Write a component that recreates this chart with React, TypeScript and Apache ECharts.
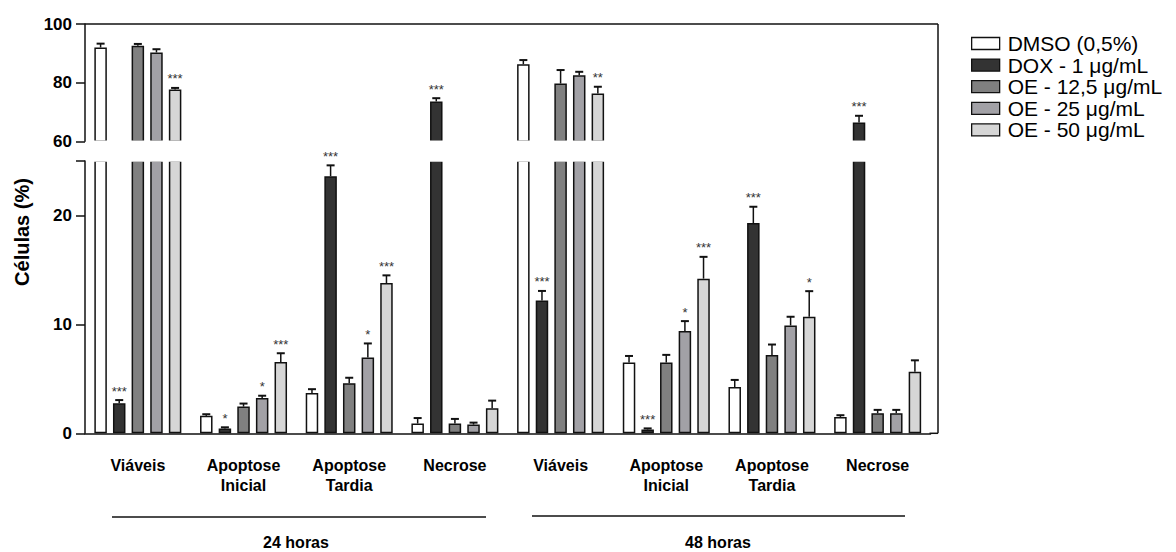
import React, { useEffect, useRef } from 'react';
import * as echarts from 'echarts';

// ---------- data ----------
const groupLabels = ['Viáveis', 'Apoptose\nInicial', 'Apoptose\nTardia', 'Necrose', 'Viáveis', 'Apoptose\nInicial', 'Apoptose\nTardia', 'Necrose'];
const timeLabels = ['24 horas', '48 horas'];
const seriesNames = ['DMSO (0,5%)', 'DOX - 1 μg/mL', 'OE - 12,5 μg/mL', 'OE - 25 μg/mL', 'OE - 50 μg/mL'];

const dmsoValues = [92.0, 1.6, 3.7, 0.9, 86.3, 6.5, 4.25, 1.5];
const dmsoErrors = [1.3, 0.15, 0.35, 0.5, 1.4, 0.6, 0.65, 0.16];
const doxValues = [2.75, 0.45, 23.6, 73.6, 12.2, 0.35, 19.3, 66.4];
const doxErrors = [0.3, 0.1, 1.0, 1.1, 0.87, 0.1, 1.5, 2.3];
const oe125Values = [92.6, 2.45, 4.6, 0.9, 79.7, 6.5, 7.2, 1.85];
const oe125Errors = [0.6, 0.28, 0.5, 0.42, 4.6, 0.7, 0.95, 0.3];
const oe25Values = [90.3, 3.25, 6.95, 0.8, 82.5, 9.4, 9.9, 1.85];
const oe25Errors = [1.1, 0.2, 1.3, 0.18, 1.2, 0.9, 0.8, 0.3];
const oe50Values = [77.7, 6.55, 13.8, 2.3, 76.3, 14.2, 10.7, 5.65];
const oe50Errors = [0.5, 0.8, 0.7, 0.7, 2.3, 2.0, 2.35, 1.05];

const dmsoSig = ['', '', '', '', '', '', '', ''];
const doxSig = ['***', '*', '***', '***', '***', '***', '***', '***'];
const oe125Sig = ['', '', '', '', '', '', '', ''];
const oe25Sig = ['', '*', '*', '', '', '*', '', ''];
const oe50Sig = ['***', '***', '***', '', '**', '***', '*', ''];

const upperMin = 60, upperMax = 100, upperInterval = 20;
const lowerMin = 0, lowerMax = 25, lowerInterval = 10;

// ---------- styles ----------
const seriesColors = ['#ffffff', '#333333', '#808080', '#a2a1a6', '#d6d6d6'];
const FONT = '"Liberation Sans", Arial, Helvetica, sans-serif';
const BAR_W = 12.5;
const BAR_GAP = 0.49;
const GRID_LEFT = 85;
const GRID_W = 845.5;
const UP_TOP = 24, UP_H = 117.3;
const LO_TOP = 161, LO_H = 272.3;
const BOX_RIGHT = 938;

const allValues = [dmsoValues, doxValues, oe125Values, oe25Values, oe50Values];
const allErrors = [dmsoErrors, doxErrors, oe125Errors, oe25Errors, oe50Errors];
const allSigs = [dmsoSig, doxSig, oe125Sig, oe25Sig, oe50Sig];
const categoryKeys = groupLabels.map((l, i) => `${i}|${l}`);

function errorData(keep: (v: number) => boolean) {
  const out: any[] = [];
  allValues.forEach((vals, s) => {
    vals.forEach((v, c) => {
      if (keep(v)) out.push([c, v, allErrors[s][c], s]);
    });
  });
  return out;
}

function renderErr(params: any, api: any) {
  const c = api.value(0);
  const v = api.value(1);
  const e = api.value(2);
  const s = api.value(3);
  const base = api.coord([c, v]);
  const top = api.coord([c, v + e]);
  const total = 5 * BAR_W + 4 * BAR_W * BAR_GAP;
  const x = base[0] - total / 2 + s * BAR_W * (1 + BAR_GAP) + BAR_W / 2;
  const children: any[] = [
    { type: 'line', shape: { x1: x, y1: base[1], x2: x, y2: top[1] }, style: { stroke: '#111', lineWidth: 1.5 } },
    { type: 'line', shape: { x1: x - 4, y1: top[1], x2: x + 4, y2: top[1] }, style: { stroke: '#111', lineWidth: 2 } },
  ];
  const sig = allSigs[s][c];
  if (sig) {
    children.push({
      type: 'text',
      x: x,
      y: top[1] - 9,
      style: { text: sig, fontSize: 13, fontFamily: FONT, fill: '#333', align: 'center', verticalAlign: 'middle' },
    });
  }
  return { type: 'group', children };
}

export default function App() {
  const ref = useRef<HTMLDivElement>(null);
  useEffect(() => {
    if (!ref.current) return;
    const chart = echarts.init(ref.current, undefined, { renderer: 'svg' });
    const barSeries: any[] = [];
    [0, 1].forEach((g) => {
      allValues.forEach((vals, s) => {
        barSeries.push({
          type: 'bar',
          name: seriesNames[s],
          xAxisIndex: g,
          yAxisIndex: g,
          data: vals,
          barWidth: BAR_W,
          barGap: `${BAR_GAP * 100}%`,
          itemStyle: { color: seriesColors[s], borderColor: '#111', borderWidth: 1.5 },
          z: 2,
        });
      });
    });
    const option: any = {
      animation: false,
      backgroundColor: '#ffffff',
      textStyle: { fontFamily: FONT },
      legend: {
        orient: 'vertical',
        left: 966,
        top: 28,
        itemWidth: 28,
        itemHeight: 12,
        itemGap: 0.6,
        icon: 'rect',
        data: seriesNames,
        itemStyle: { borderColor: '#111', borderWidth: 1.3 },
        textStyle: { fontSize: 21, fontFamily: FONT, color: '#000', lineHeight: 21, padding: [0, 0, 0, 3] },
      },
      grid: [
        { left: GRID_LEFT, top: UP_TOP, width: GRID_W, height: UP_H },
        { left: GRID_LEFT, top: LO_TOP, width: GRID_W, height: LO_H },
      ],
      xAxis: [
        { type: 'category', gridIndex: 0, data: categoryKeys, show: false },
        {
          type: 'category',
          gridIndex: 1,
          data: categoryKeys,
          axisLine: { lineStyle: { color: '#111', width: 1.5 } },
          axisTick: { alignWithLabel: true, length: 8, lineStyle: { color: '#111', width: 1.5 } },
          axisLabel: {
            interval: 0,
            margin: 22,
            fontSize: 16,
            fontWeight: 'bold',
            fontFamily: FONT,
            color: '#000',
            lineHeight: 20,
            formatter: (v: string) => v.split('|')[1],
          },
        },
      ],
      yAxis: [
        {
          type: 'value',
          gridIndex: 0,
          min: upperMin,
          max: upperMax,
          interval: upperInterval,
          splitLine: { show: false },
          axisLine: { show: true, lineStyle: { color: '#111', width: 1.5 } },
          axisTick: { show: true, length: 9, lineStyle: { color: '#111', width: 1.5 } },
          axisLabel: { margin: 13, fontSize: 17, fontWeight: 'bold', fontFamily: FONT, color: '#000' },
        },
        {
          type: 'value',
          gridIndex: 1,
          min: lowerMin,
          max: lowerMax,
          interval: lowerInterval,
          splitLine: { show: false },
          axisLine: { show: true, lineStyle: { color: '#111', width: 1.5 } },
          axisTick: { show: true, length: 9, lineStyle: { color: '#111', width: 1.5 } },
          axisLabel: {
            margin: 13,
            fontSize: 17,
            fontWeight: 'bold',
            fontFamily: FONT,
            color: '#000',
            formatter: (v: number) => (v === lowerMax ? '' : String(v)),
          },
        },
      ],
      series: [
        ...barSeries,
        {
          type: 'custom',
          xAxisIndex: 0,
          yAxisIndex: 0,
          data: errorData((v) => v >= upperMin),
          renderItem: renderErr,
          z: 10,
        },
        {
          type: 'custom',
          xAxisIndex: 1,
          yAxisIndex: 1,
          data: errorData((v) => v < lowerMax),
          renderItem: renderErr,
          z: 10,
        },
      ],
      graphic: [
        { type: 'rect', z: 3, shape: { x: GRID_LEFT + 1, y: UP_TOP + UP_H - 0.8, width: BOX_RIGHT - GRID_LEFT - 2, height: LO_TOP - UP_TOP - UP_H + 1.6 }, style: { fill: '#fff' } },
        { type: 'line', z: 6, shape: { x1: GRID_LEFT, y1: UP_TOP, x2: BOX_RIGHT, y2: UP_TOP }, style: { stroke: '#111', lineWidth: 1.5 } },
        { type: 'line', z: 6, shape: { x1: BOX_RIGHT, y1: UP_TOP, x2: BOX_RIGHT, y2: LO_TOP + LO_H }, style: { stroke: '#111', lineWidth: 1.5 } },
        { type: 'line', z: 6, shape: { x1: GRID_LEFT + GRID_W - 1, y1: LO_TOP + LO_H, x2: BOX_RIGHT, y2: LO_TOP + LO_H }, style: { stroke: '#111', lineWidth: 1.5 } },
        {
          type: 'text', z: 6, x: 22, y: 232, rotation: Math.PI / 2,
          style: { text: 'Células (%)', fontSize: 20, fontWeight: 'bold', fontFamily: FONT, fill: '#000', align: 'center', verticalAlign: 'middle' },
        },
        { type: 'line', z: 6, shape: { x1: 112, y1: 517, x2: 486, y2: 517 }, style: { stroke: '#111', lineWidth: 1.3 } },
        { type: 'line', z: 6, shape: { x1: 532, y1: 516, x2: 905, y2: 516 }, style: { stroke: '#111', lineWidth: 1.3 } },
        {
          type: 'text', z: 6, x: 296, y: 542,
          style: { text: timeLabels[0], fontSize: 16, fontWeight: 'bold', fontFamily: FONT, fill: '#000', align: 'center', verticalAlign: 'middle' },
        },
        {
          type: 'text', z: 6, x: 718, y: 542,
          style: { text: timeLabels[1], fontSize: 16, fontWeight: 'bold', fontFamily: FONT, fill: '#000', align: 'center', verticalAlign: 'middle' },
        },
      ],
    };
    chart.setOption(option);
    return () => chart.dispose();
  }, []);
  return <div ref={ref} style={{ position: 'fixed', left: 0, top: 0, width: 1176, height: 552, background: '#fff' }} />;
}
